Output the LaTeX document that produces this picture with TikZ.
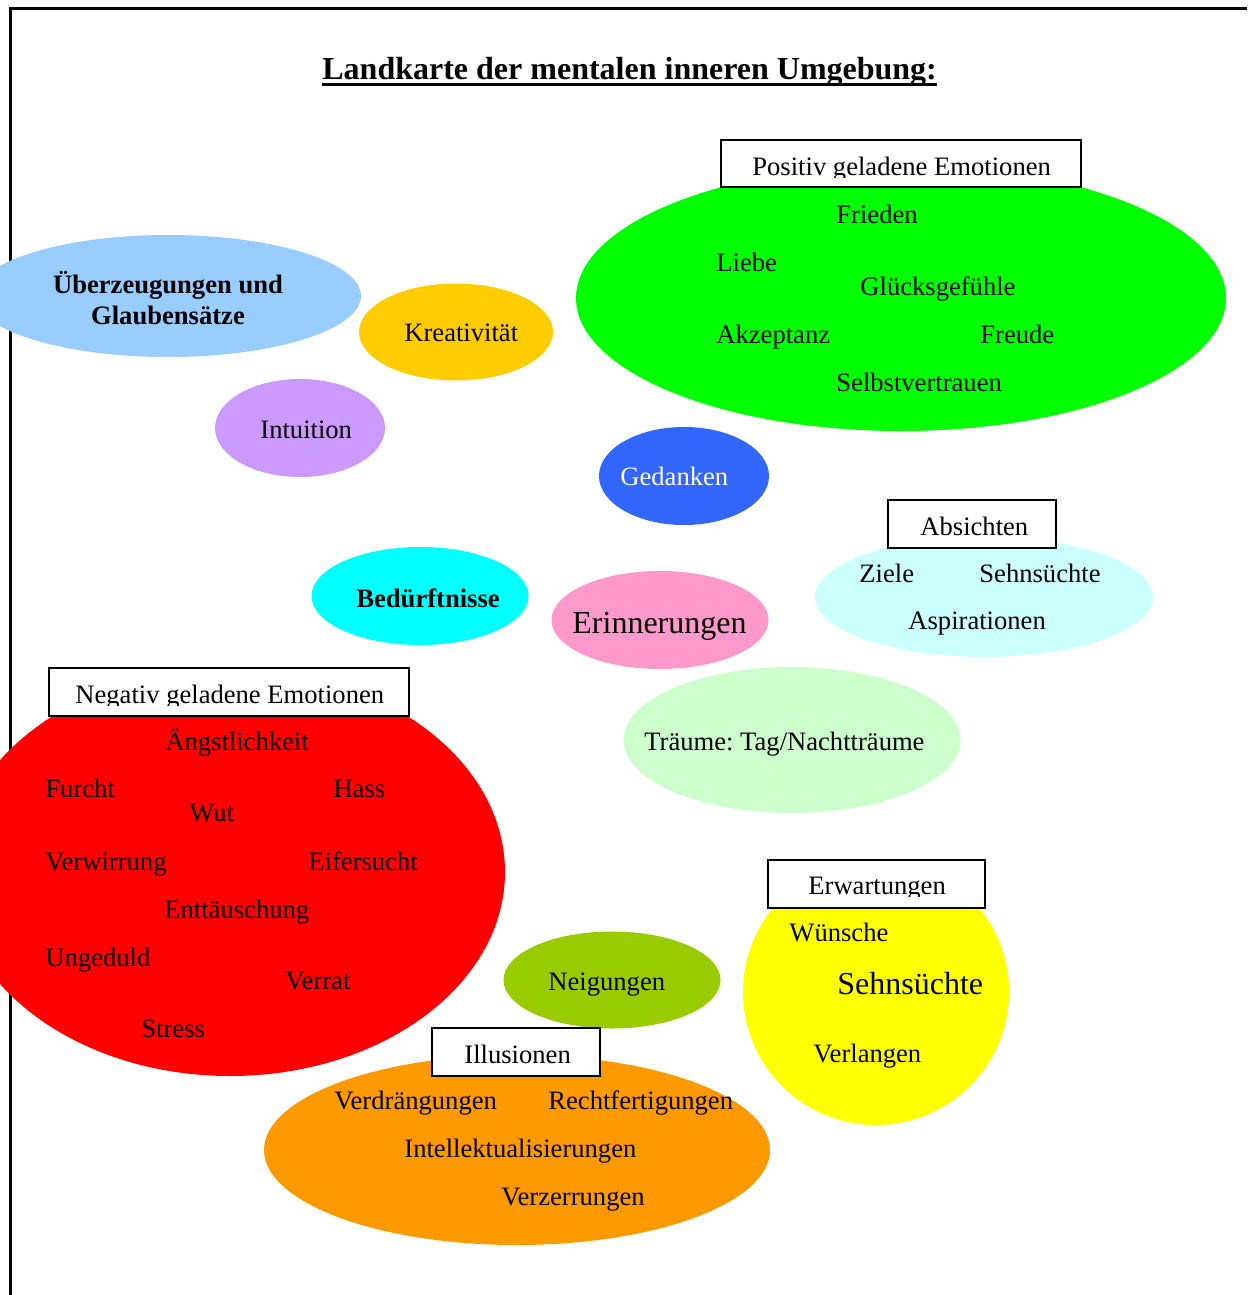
\documentclass[tikz,border=0pt]{standalone}
\usepackage{fontspec}
\setmainfont{Liberation Serif}
\usetikzlibrary{shapes.geometric}
\definecolor{gruen}{HTML}{00FF00}
\definecolor{hellblau}{HTML}{99CCFF}
\definecolor{goldgelb}{HTML}{FFCC00}
\definecolor{lila}{HTML}{CC99FF}
\definecolor{blau}{HTML}{3366FF}
\definecolor{tuerkis}{HTML}{00FFFF}
\definecolor{rosa}{HTML}{FF99CC}
\definecolor{hellcyan}{HTML}{CCFFFF}
\definecolor{hellgruen}{HTML}{CCFFCC}
\definecolor{rot}{HTML}{FF0000}
\definecolor{oliv}{HTML}{99CC00}
\definecolor{gelb}{HTML}{FFFF00}
\definecolor{orange}{HTML}{FF9900}
\frenchspacing
\begin{document}
\begin{tikzpicture}[x=0.5pt,y=-0.5pt,
  font=\fontsize{13.3}{16}\selectfont,
  blase/.style={ellipse,draw=none,inner sep=0pt},
  kasten/.style={draw,line width=1pt,fill=white,inner sep=0pt},
  wort/.style={anchor=base west,inner sep=0pt},
  gross/.style={font=\fontsize{16}{19}\selectfont}]
\useasboundingbox (0,0) rectangle (1247,1295);
% Rahmen
\draw[line width=1.5pt] (10,1295) -- (10,9) -- (1247,9);
% Titel
\node[wort,font=\bfseries\fontsize{16}{19}\selectfont] (titel) at (322,80) {Landkarte der mentalen inneren Umgebung:};
\draw[line width=1.5pt] ([yshift=-2.3pt]titel.base west) -- ([yshift=-2.3pt]titel.base east);
% Blasen
\node[blase,fill=gruen,minimum width=325pt,minimum height=133pt] (positiv) at (901,298) {};
\node[blase,fill=hellblau,minimum width=193pt,minimum height=61pt] (glauben) at (168,296) {};
\node[blase,fill=goldgelb,minimum width=97pt,minimum height=48.5pt] (kreativ) at (456,332) {};
\node[blase,fill=lila,minimum width=85pt,minimum height=49pt] (intuition) at (300,428) {};
\node[blase,fill=blau,minimum width=85pt,minimum height=49pt] (gedanken) at (684,476) {};
\node[blase,fill=tuerkis,minimum width=108.5pt,minimum height=49pt] (beduerf) at (420,596) {};
\node[blase,fill=rosa,minimum width=108.5pt,minimum height=49pt] (erinner) at (660,620) {};
\node[blase,fill=hellcyan,minimum width=169pt,minimum height=60pt] (absicht) at (984,597) {};
\node[blase,fill=hellgruen,minimum width=168.5pt,minimum height=73pt] (traum) at (792,740) {};
\node[blase,fill=rot,minimum width=275pt,minimum height=204pt] (negativ) at (230,872) {};
\node[blase,fill=oliv,minimum width=108.5pt,minimum height=48.5pt] (neigung) at (612,980) {};
\node[blase,fill=gelb,minimum width=133pt,minimum height=133pt] (erwart) at (876,992) {};
\node[blase,fill=orange,minimum width=253pt,minimum height=95pt] (illusion) at (517,1150) {};
% Kaesten
\node[kasten,minimum width=180pt,minimum height=23.5pt] (kpositiv) at (901,163.5) {};
\node[kasten,minimum width=84pt,minimum height=24pt] (kabsicht) at (972,524) {};
\node[kasten,minimum width=180pt,minimum height=24pt] (knegativ) at (229,692) {};
\node[kasten,minimum width=108.5pt,minimum height=24pt] (kerwart) at (876.5,884) {};
\node[kasten,minimum width=84pt,minimum height=24pt] (killusion) at (516,1052) {};
\begin{scope}
  \clip (721,141) rectangle (1081,177.5);
  \node[wort] (tpositiv) at (752,175) {Positiv geladene Emotionen};
\end{scope}
\node[wort] (tabsicht) at (920,535) {Absichten};
\begin{scope}
  \clip (49,669) rectangle (409,705.5);
  \node[wort] (tnegativ) at (75,703) {Negativ geladene Emotionen};
\end{scope}
\begin{scope}
  \clip (768,861) rectangle (985,896.5);
  \node[wort] (terwart) at (808,894) {Erwartungen};
\end{scope}
\node[wort] (tillusion) at (464,1063) {Illusionen};
% positive Emotionen
\node[wort] (frieden) at (836,223) {Frieden};
\node[wort] (liebe) at (716,271) {Liebe};
\node[wort] (glueck) at (860,295) {Glücksgefühle};
\node[wort] (akzeptanz) at (716,343) {Akzeptanz};
\node[wort] (freude) at (980,343) {Freude};
\node[wort] (selbst) at (836,391) {Selbstvertrauen};
% einzelne Blasen
\node[anchor=base,inner sep=0pt,font=\bfseries\fontsize{13.3}{16}\selectfont] (tglauben1) at (168,293) {Überzeugungen und};
\node[anchor=base,inner sep=0pt,font=\bfseries\fontsize{13.3}{16}\selectfont] (tglauben2) at (168,324) {Glaubensätze};
\node[wort] (tkreativ) at (404,341) {Kreativität};
\node[wort] (tintuition) at (260,438) {Intuition};
\node[wort,white] (tgedanken) at (620,485) {Gedanken};
\node[wort,font=\bfseries\fontsize{13.3}{16}\selectfont] (tbeduerf) at (356,607) {Bedürftnisse};
\node[wort,gross] (terinner) at (572,633) {Erinnerungen};
\node[wort] (ttraum) at (644,750) {Träume: Tag/Nachtträume};
\node[wort] (tneigung) at (548,990) {Neigungen};
% Absichten
\node[wort] (ziele) at (859,582) {Ziele};
\node[wort] (sehn1) at (979,582) {Sehnsüchte};
\node[wort] (aspir) at (908,629) {Aspirationen};
% negative Emotionen
\node[wort] (angst) at (165,750) {Ängstlichkeit};
\node[wort] (furcht) at (45,797) {Furcht};
\node[wort] (hass) at (333,797) {Hass};
\node[wort] (wut) at (189,821) {Wut};
\node[wort] (verwirr) at (45,870) {Verwirrung};
\node[wort] (eifer) at (308,870) {Eifersucht};
\node[wort] (enttaeu) at (164,918) {Enttäuschung};
\node[wort] (ungeduld) at (45,966) {Ungeduld};
\node[wort] (verrat) at (285,989) {Verrat};
\node[wort] (stress) at (141,1037) {Stress};
% Erwartungen
\node[wort] (wuensche) at (789,941) {Wünsche};
\node[wort,gross] (sehn2) at (837,994) {Sehnsüchte};
\node[wort] (verlangen) at (813,1062) {Verlangen};
% Illusionen
\node[wort] (verdraeng) at (334,1109) {Verdrängungen};
\node[wort] (recht) at (548,1109) {Rechtfertigungen};
\node[wort] (intell) at (404,1157) {Intellektualisierungen};
\node[wort] (verzerr) at (501,1205) {Verzerrungen};
\end{tikzpicture}
\end{document}
